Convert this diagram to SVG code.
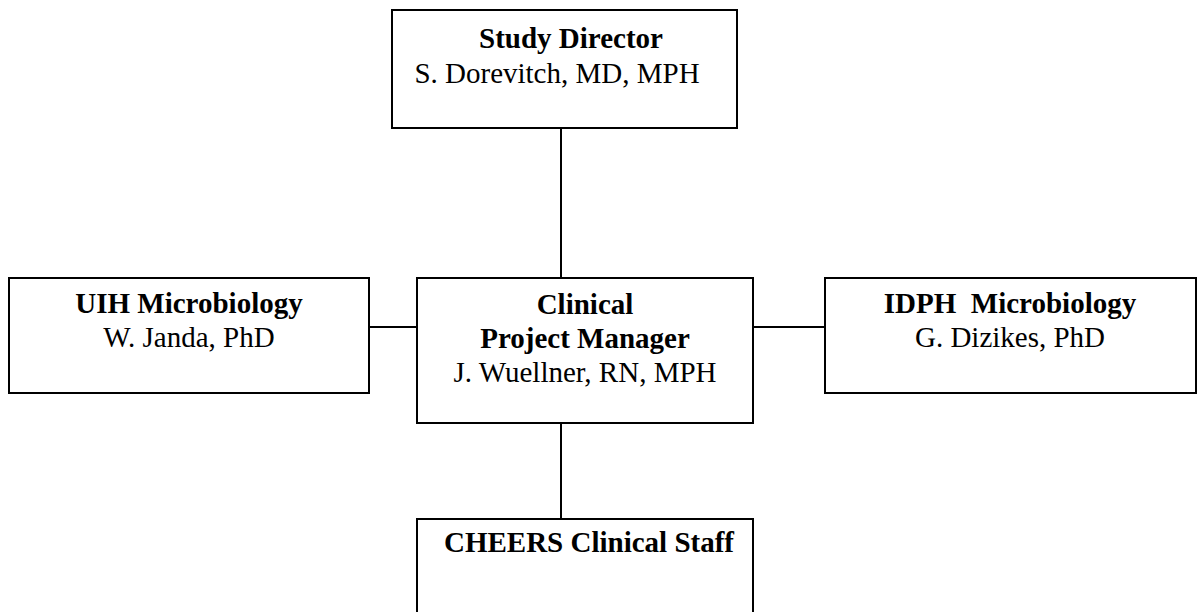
<svg xmlns="http://www.w3.org/2000/svg" width="1204" height="612" viewBox="0 0 1204 612">
<style>
.box{fill:#fff;stroke:#000;stroke-width:2}
.ln{stroke:#000;stroke-width:2;fill:none}
text{font-family:"Liberation Serif","Times New Roman",serif;font-size:29px;fill:#000;text-anchor:middle;white-space:pre}
.b{font-weight:bold}
</style>
<rect width="1204" height="612" fill="#fff"/>
<g id="connectors">
<line class="ln" x1="561" y1="128" x2="561" y2="278"/>
<line class="ln" x1="369" y1="327" x2="417" y2="327"/>
<line class="ln" x1="753" y1="327" x2="825" y2="327"/>
<line class="ln" x1="561" y1="423" x2="561" y2="519"/>
</g>
<g id="study-director">
<rect class="box" x="392" y="10" width="345" height="118"/>
<text class="b" x="571" y="48">Study Director</text>
<text x="557" y="83">S. Dorevitch, MD, MPH</text>
</g>
<g id="uih">
<rect class="box" x="9" y="278" width="360" height="115"/>
<text class="b" x="189" y="313">UIH Microbiology</text>
<text x="189" y="347">W. Janda, PhD</text>
</g>
<g id="clinical">
<rect class="box" x="417" y="278" width="336" height="145"/>
<text class="b" x="585" y="314">Clinical</text>
<text class="b" x="585" y="348">Project Manager</text>
<text x="585" y="382">J. Wuellner, RN, MPH</text>
</g>
<g id="idph">
<rect class="box" x="825" y="278" width="371" height="115"/>
<text class="b" x="1010" y="313" xml:space="preserve">IDPH  Microbiology</text>
<text x="1010" y="347">G. Dizikes, PhD</text>
</g>
<g id="cheers">
<rect class="box" x="417" y="519" width="336" height="110"/>
<text class="b" x="589" y="552">CHEERS Clinical Staff</text>
</g>
</svg>
